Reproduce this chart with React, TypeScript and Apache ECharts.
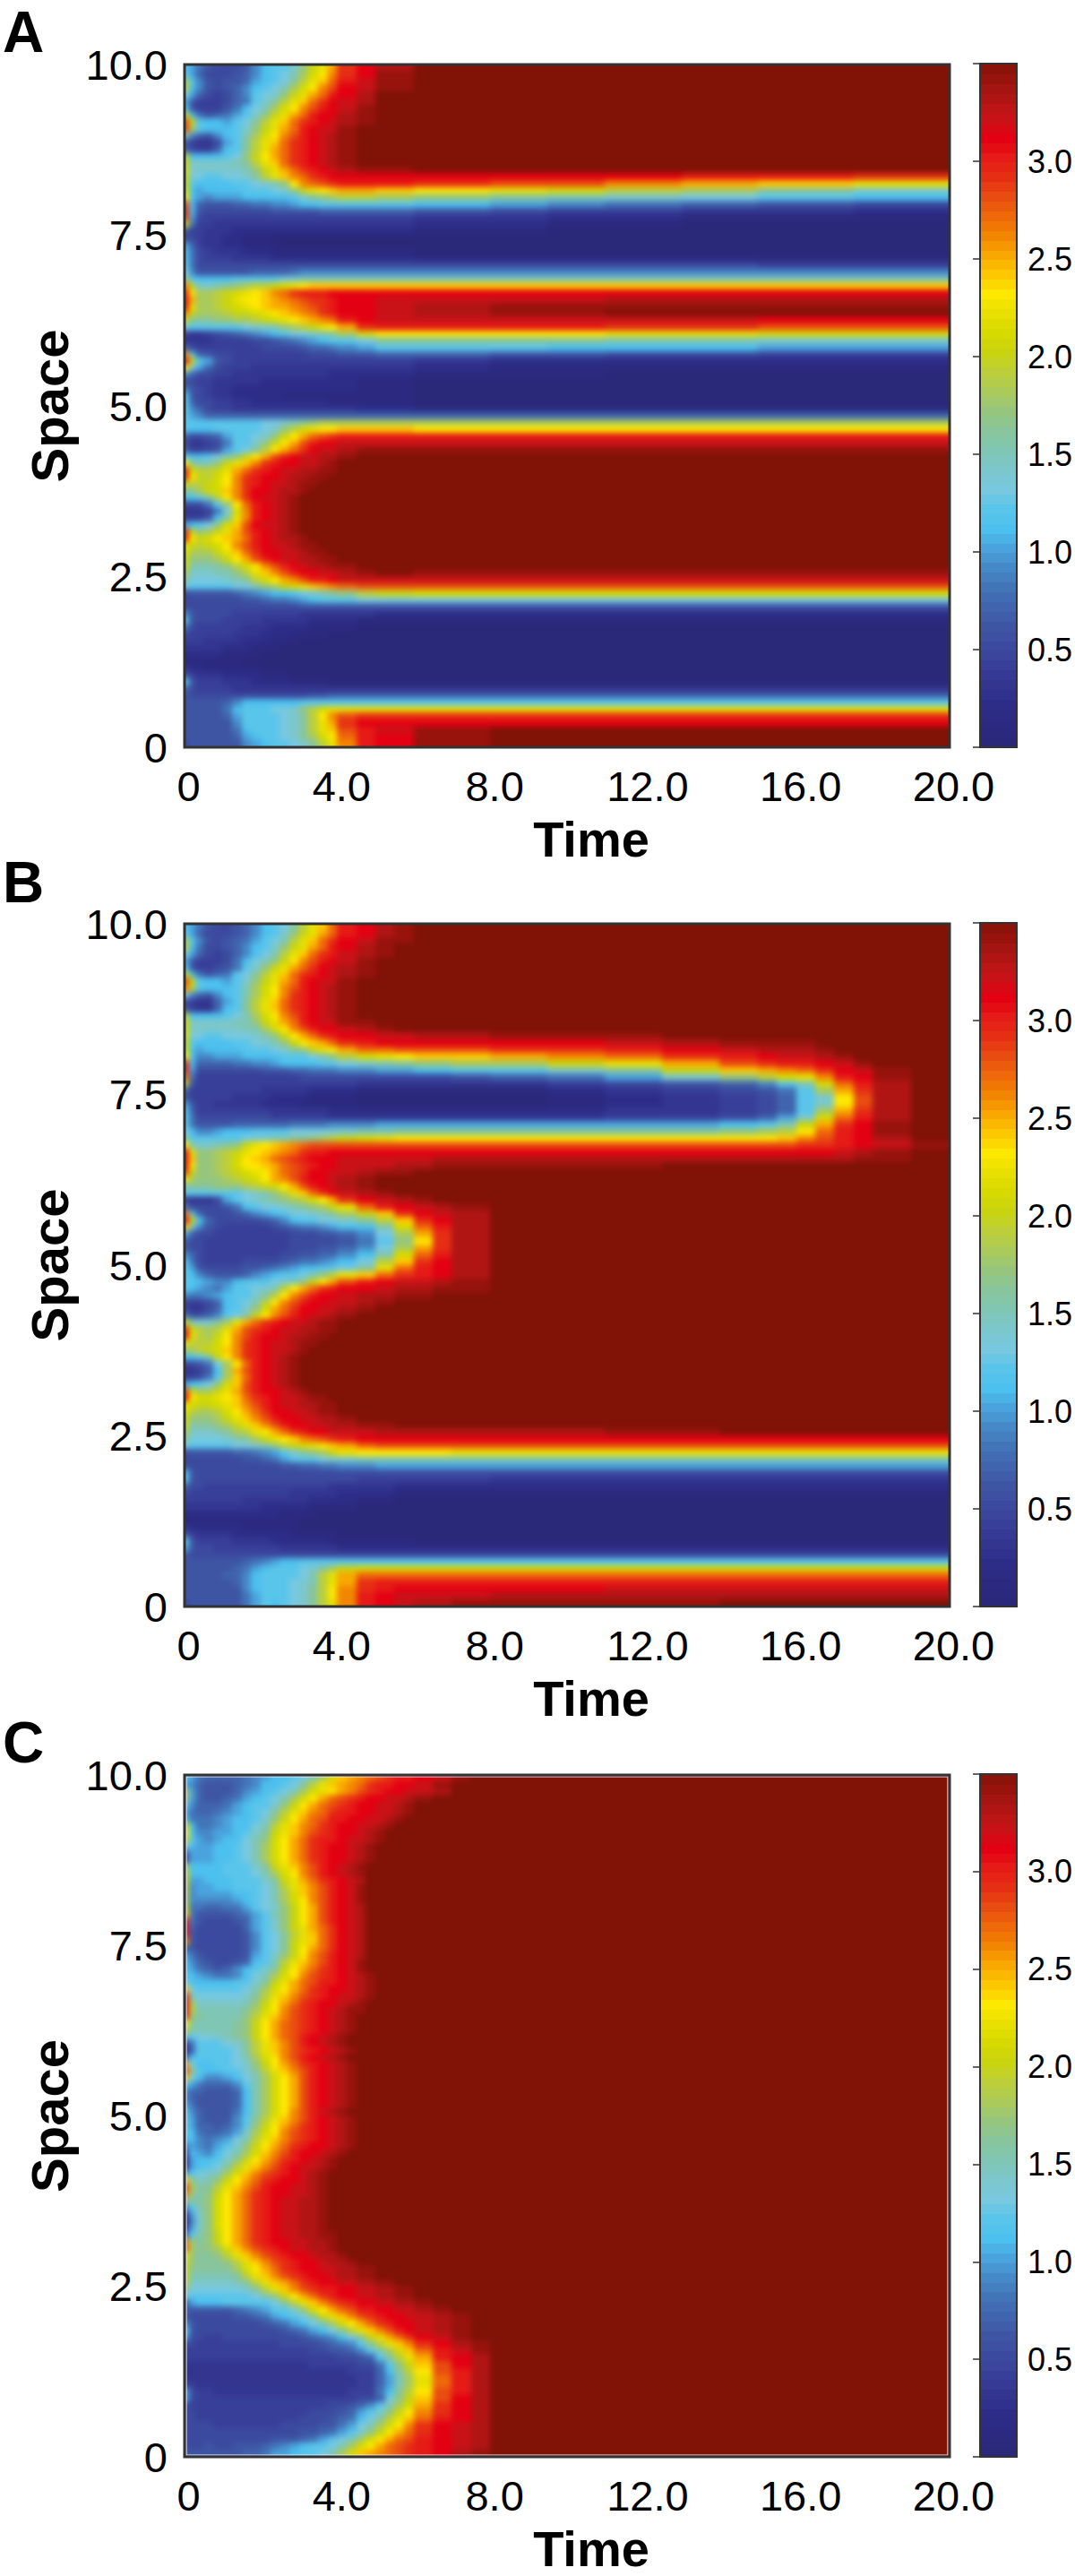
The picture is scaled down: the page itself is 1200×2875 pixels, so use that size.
import React, { useEffect, useRef } from "react";
import * as echarts from "echarts";

const FONT = "Liberation Sans";
const colorRamp = ["#2a2879","#2b2a80","#2d2d88","#33358f","#383f98","#3b4a9e","#3e55a4","#4064ad","#4274b8","#4689c8","#4aa3dc","#4cc0ee","#5ac5ea","#78c9e0","#7cc7cb","#7fc6b4","#88c59c","#96c67e","#aaca5c","#bccf3a","#c9d410","#d6da00","#e8e000","#fde800","#fdc800","#f8a800","#f38600","#ef680a","#e94c10","#e62e14","#e61a16","#e30012","#c91218","#b01514","#97130c","#801206"];
const colorbarLevels = [0,.05,.1,.15,.2,.25,.3,.35,.4,.45,.5,.55,.6,.65,.7,.75,.8,.85,.9,.95,1,1.05,1.1,1.15,1.2,1.25,1.3,1.35,1.4,1.45,1.5,1.55,1.6,1.65,1.7,1.75,1.8,1.85,1.9,1.95,2,2.05,2.1,2.15,2.2,2.25,2.3,2.35,2.4,2.45,2.5,2.55,2.6,2.65,2.7,2.75,2.8,2.85,2.9,2.95,3,3.05,3.1,3.15,3.2,3.25,3.3,3.35,3.4,3.45,3.5];
const panelLetters = ["A", "B", "C"];

const earlyTimes = [0,.12,.3,.5,.75,1,1.25,1.5,1.75,2,2.25,2.5,2.75,3,3.25,3.5,3.75];
const timesA = [...earlyTimes,4,4.5,5,6,8,9.5,11,13,15,17.5,20];
const timesB = [...earlyTimes,4,4.5,5,5.5,6,6.5,7,8,9.5,11,12.5,14,15,15.5,16,16.5,17,17.5,18,19,20];
const timesC = [...earlyTimes,4,4.25,4.5,4.75,5,5.25,5.5,5.75,6,6.5,7,7.5,8,9,20];

// Each character is one cell: base-36 digit = value x 10. Rows run from space 10 down to 0 in 0.1 steps.
// A row shorter than its time axis keeps its last value to the end.
const rowsA = [
"ba86 5556 9bcc ehkm ptvx zzzz","ca75 5567 9bcd filn qtvy zzzz","ic96 5667 abcd gjmo ruwy zzzz","jb96 5679 bcdf ilnq svwy zzzz","da75 4579 cdeh kmpr uvxz zzzz",
"a644 4578 cegj mort vwxz zzzz","b644 468b dfil nqsu vwyz zzzz","kb86 78ac ehkm pruv vxyz zzzz","skcb bacd gjmo rtuv wxyz zzzz","sicb bbce hkmp ruvw wyzz zzzz",
"f976 9bcf ilnq suvw xyzz zzzz","6433 5acg jmor tuvw xyzz zzzz","7544 7bcg jmpr tuvw xyzz zzzz","jbbb bcdh knpr tuvw xyzz zzzz","keee eefg jmor tuvw xyzz zzzz",
"ldee eeef hkmp rtuv wxyy zzzz","kddc cdde gjmo qrtu vvvv vvvvuut","kcbb bbcc defh nqrs tuuu tssqpom","lbab bbbc ccde hkmn oppo nmljige","nba9 aaab bbbb cegh ijji hgfedcb",
"sb76 6677 8899 abbc cccc ba98765","tb65 5555 5566 6667 7777 6544332","sa54 4444 4444 4444 4444 3322111","k844 3333 3333 3333 3333 2211000","6443 3322 2222 2222 2222 1100000",
"5543 3221 1100 0000 0000 0000","a743 3221 1110 0000 0000 0000","b854 3332 2211 1111 1111 0000","b854 4433 3322 2222 2222 1111","c855 5555 5555 5555 5555 5555544",
"d966 6666 7777 8999 9999 9999","hcbb bbcc cccd efff ffff ffff","qjee fghi jjkl mnoo oooo oooo","tnii jklm noqr tuuu vvvv vvvv","upii jkmn nopq rstt uvvw wwwxxxx",
"umii jklm nopp qrst uvvw xyyy","qkii ijkk lmno pqrt uvvw xyyz","kggg hhii jklm nopq ruvw wwwwwvv","dccc cccd eefh ijkm nptu uuuttss","4334 5678 9abc ddef giln nnnmmll",
"3333 4444 5567 89ab ccdg gggffee","7544 4444 4555 5677 89ac ccbbbaa","qc76 5544 4444 4455 5667 7665544","ukca 6544 4444 4444 4444 3222","nda7 5444 3333 3333 3333 2111",
"9755 4433 3333 3333 2222 1110","5544 3333 3222 2222 2211 0000","8654 3322 2222 2222 2211 0000","b654 3322 2221 1111 1111 0000","c755 4433 2222 2222 1111 0000",
"c975 4433 3333 3333 3322 1111","ca97 7777 7777 7777 7777 7777","cccc cccc cdde fghi iiii iiii","cbbb cccc cdeh jlmn nooo nnnn","7556 7acc dehk nprs tuuu uuuu",
"5334 58cc ehkn psuv vwww wwww","7445 6acd gjnp rtvw wxyy yyyy","cbbc dfhk npsu vwwx xyzz zzzz","ngff hkmo qtuv vwwx yzzz zzzz","tljj kmpr tuvw wxxy yzzz zzzz",
"tnkj lnqt uvvw xxyy zzzz zzzz","kjjk lnqt uvww xyyz zzzz zzzz","ggik loqt vvwx xyzz zzzz zzzz","bbcf jnqt vwwx yzzz zzzz zzzz","5558 chnr uvwx yzzz zzzz zzzz",
"3334 8dlq uvwx yzzz zzzz zzzz","4446 bgmq uvwx yzzz zzzz zzzz","abcd hlos vwwx yzzz zzzz zzzz","tkhi kmps uvwx yzzz zzzz zzzz","tnkl nopr uvwx xyzz zzzz zzzz",
"mkjk lnqs uvww xyyz zzzz zzzz","liii kmor tvvw wxyy zzzz zzzz","khhh iknp suvw wxxy yzzz zzzz","kfff ghjl nqsu vwxx yyzz zzzz","ieee ffhj moqs uvvw wxyz yyyy",
"gddd defg jlnp qsuu vwww wwww","dccc ccdd fhik lmop qrss ssss","5666 6678 9abb cdef ghjk llll","5555 5556 6788 9abc ccdd dddd","5555 5555 5555 5666 6666 6666",
"9655 5544 4444 4333 3332 2222","c655 5444 4333 3322 2211 1111","8544 4443 3322 2211 1100 0000","5444 4433 3222 1111 0000 0000","4443 3332 2211 1000 0000 0000",
"3333 3222 1110 0000 0000 0000","2222 2111 1000 0000 0000 0000","1111 1110 0000 0000 0000 0000","3221 1111 1000 0000 0000 0000","6433 3222 2111 0000 0000 0000",
"c644 4333 2222 1111 0000 0000","7544 4433 3333 3333 3333 3333","6555 5555 5555 5566 7777 7777","6666 679b bbbb bccc cccc cccc","6666 68bc ccdd ehjl mmmm mmmm",
"6666 67ac cccd egjn qstt tttt","6666 669c cccd egjm ptvv vvvv","6666 668b cccd egjm osuw yz","6666 667a bccd egil nruv yz","5666 6669 abcc degj mquv yz",
];

const rowsB = [
"ba86 5567 9bcd gjmo ruvx yz","ca75 5567 9bce hkmp ruvx yz","ic96 5678 acdf jmor tvwy yz","jb85 5679 bceh kmpr uvxy z","da75 4579 bdfj mort uwxy z",
"a644 458b dfhk nqsu vwyz","b644 568c ehkm prtv wxyz","kb86 78cd gjmo rtuv wxyz","skcb bace hkmp ruvw wyz","qjcb bbcf ilnq suvw xyz",
"d976 9bcf ilnq tuvw xyz","5433 7acg jmor tuvw xyz","6433 7bcg jmor tuvw xyz","jbbb bcdf ilnq suvw xyz","keee eeff hkmp ruvw wyyz",
"leee eeef filn qsuv vwxy z","lddc cddd efhk nprt uvvw wxxx yyyz","kcbb bbcc defh knop rtuv vvvv vvwxyyyyz","lbab bbbc ccde ghkm nprr ssss ttuvwxxxyz","nb99 aaab bbbc ccdf hjlm nooo pqrtuvwwxyz",
"tb77 7788 99ab bbbc cdef ghhi ikmpstuuvwyz","ta55 5555 5666 7788 899a abbc cegkopqrtvwyz","r844 4444 4444 4555 5555 5556 78aehjlmquvyz","j644 4444 4444 4444 4433 3333 345679cflruxz","7444 4444 4333 3322 2211 1111 1234568ciptxz",
"6444 4433 3322 2211 1100 0000 0123457censxz","a644 3333 3222 2111 1100 0000 0123457censxz","b744 4444 4433 3333 2222 2222 2233457ciptxz","c855 5555 5544 4444 3333 3333 334457aelruxz","c866 6677 7777 8888 999a aaaa aaaabcfkptvyz",
"db99 abbb cccc dddd eeff gggg gggghijnruvyz","gccc cccd eeff gghi jklm nnnn nnnnnnoqsuvxz","nfee fghk mnop qrss ssss ssss sssssssttuvwyz","umhh ijkm nopq rtuu vvvv vvvv vvvvvvvvvwxyz","uohh ijln oprs tuvv vwww wwxx xxxxxxxxxxyyz",
"unhh ijln nopr stuv vwww xxyy yyyz","skhh ijkl mnpr stvv wwxy yz","mihh hijk lnpq suvv wxyz","fggg hhhi jkln psuv wxyz","cccc cccd efhj mort vwxy z",
"4333 5acd efgh ijln ptvw xyz","8555 568b cdde fghi kmru vwxy z","rc75 5567 9abc ddef giko tvwx z","ukb7 5555 5679 bccd degj otvx z","oe96 5444 4456 7889 abbf lrux z",
"a755 4444 4444 5556 679d iptx z","7554 4444 4444 5555 568c hntx z","6554 4444 4444 5556 679d iptx z","9754 4444 4445 5667 79bf lrux z","b854 4445 5556 7889 abdj otvx z",
"ca65 5556 6789 abbc cdgm ruvx z","cb97 6667 9abc cdfh jmor tuvx z","ccba 99bc ccde fhkn psuv wwxy z","cba9 8acc defj nprt uvvw xxyy z","9889 abcc egjn qsuv vwxx yyz",
"4445 7bcd fjnq suvv wwxy z","5335 7bce hlpr tvvw wxyz","8667 9cdg knqs uvww xyz","kfee gimp rtuv wwxy yz","tlji jmps tuvw wxxy yz",
"umji knqs uvvw xxyy z","mjjj lnqt uvww xyyz","hijk loqt uvww xyzz","bbcf knqt uvwx yz","5568 dinr uvwx yz",
"3346 bips uvwx yz","4458 cior uvwx yz","abcd hlos uvwx yz","skii kmps uvvw xyz","unll mnor tuvw wxyy z",
"mlkk lmoq suvw wxxy yz","ljii jlnp rtvv wwxy yz","khhh ikmo qsuv vwwx xyz","kfgg hikm oqsu vvww xxyy z","ieee fgij mnpr tuvv wwwx xxxxxxyyz",
"gddd defg ikmn oqrs tuvv vvvv vvvv v","dccc ccdd efhj klmn oprs ssss ssss s","5666 6677 89ac eghi kmnn nnnm mmmm m","5555 5556 678a cccd eeff ffff ffff f","5555 5555 5556 6778 899a aaaa aaaa a",
"b655 5555 5555 5555 5555 5555 5555 5","c655 5555 5555 5555 5544 4444 3333 3","7554 4444 4444 4444 3333 2222 2222 2","5444 4444 4444 3333 3222 1111 1111 1","4444 4443 3333 3322 2211 0000 0000 0",
"3333 3333 3222 2211 1100 0","2222 2222 2221 1110 0","1111 1111 1111 1000 0","3222 2221 1111 1000 0","6433 3322 2222 1111 1000 0",
"c644 4433 3322 2222 1111 1000 0","a655 4444 4443 3333 3222 2222 2","6555 5555 5555 5555 5555 5555 5","6666 6667 89ab bccc cccc cccc c","6666 6678 abcc cdeg ikll llll l",
"6666 6779 bccc cdfj mprr rrrr r","6666 6679 bccc defj mptu uuuu u","6666 6669 bccc degj nqtu vvvv vvww","6666 6668 accc degj nquv wwww xxxx x","5666 6668 acbc degj mquv wxxy yyyyz",
];

const rowsC = [
"ba87 7778 9abb cdfi lopq rstu uvwy z","a976 6678 9bbc dgjm opqr tuuv vwyz","ia76 6679 abcd film npqs tuvv wwxz","ha76 678a bcdf ilnp rstu vvww xyz","c977 78ab cceh knpr stuv vwwx yz",
"a877 89ab cdgj moqr tuuv vwwx yz","b888 9abb cehk nprs uuvv wwxy z","lb88 9abb dfjm oqrt uvvw wxyz","nb99 aabc egkm oqst uvvw xyz","lca9 abbd fhln prtu uvww xyz",
"dbaa bbcd filn prtu vvwx yz","7aaa bbcd filn prtu vvwx yz","4aaa bbcd filn prtu vvwx yz","ibbb bccc egkm oqsu vwxy z","kbbb bccc dfil nqsu vwxy z",
"kaab bbcc cegk mprt uvwx z","j9aa bbcc cdfj moqs uvwy z","j9aa aabb cdfi loqs uvwy z","i999 99ab cdfi lnqs uvwy z","k887 788a cdeh knps uvwx z",
"o866 6678 acfh knps uvwx z","t865 5567 aceh knps uvwx z","u755 5557 aceh kmpr tvwx z","t655 5556 9cdg jmor tvwx z","q655 5556 9cdg kmor tvwx z",
"7655 5556 9cdg knpr tvwx z","a865 5556 aceh knqs uvwx z","b976 5567 bcfj moqs uvwy z","ba87 679b cegk nprt uvwy z","cba9 889b dfil nqst uvwx yz",
"dbbb bbcc egkm prsu uvwx yz","odcc cccd filn prtu vvwx yz","tfdd ddde gjmo qstu vwwx yz","uiee eeef hknp rtuv vwxy z","ujff fffg ilnq stuv wxyy z",
"thgf fffh jmoq stuv wxyz","ngff ffgh knpr stuv wxyz","jfff ffgh knpr stuv wxyz","ccdd efgh knpr suvw xyz","48cc cdeg jmoq suvw xyz",
"37cc ccdg jmoq stuv wxyz","8bcc ccdf ilnq suvw xyz","pdbb ccde hknp rtuv wxyz","shcb bcce gjmo qsuv wxyz","odb9 9abd filn psuv wxyz",
"ba87 779c filn psuv wxyz","9776 667b filn psuv wxyz","9766 667b filn psuv wxyz","a866 667b filn psuv wxyz","c976 668b filn qsuw xyz",
"ca76 669c gjmo qsuv wxyz","ca77 679c hknp rtuv wxyz","cb87 78ae ilnq stuv wxyz","bb98 9adf jmoq stuv wxyz","9a98 aceh knpr tuvv wxyz",
"5ba9 bdfi loqs uvvw xyz","3abb cehk nprt uvwx yz","3abc dgjm oqsu vwwx yz","acde filo qstu vwxy z","ogef hknp rtuv vwxy z",
"sigg jmoq suvv wwxy z","qhfh knpr tuvv wwxy z","hfgh lnpr tuvw wxxy z","9cfh lnpr tuvw wxxy z","3aeh lnpr tuvw wxxy z",
"29eh lnpr tuvw wxxy z","3aeh lnpr tuvw wxxy z","8cfh knpr tuvw wxxy yz","qhgh knpr tuvv wwxx yz","righ iloq stuv wwxx yz",
"mhgg hjmo qstu vvwx xyz","lhgg ghjm oqst uvvw xxyz","kggg ggil nprt uvvw wxxy yz","kfff ffgj moqs tuvv wxxy yz","jeee eefg jmop rtuv vwwx xyyz",
"hddd ddde gjmo qstu uvvw wxxy yz","dccc cccc dfhk nprt uvvw wxxy yz","7abb bccc ccdg jmoq stuv vwwx xyz","7666 6678 9acc ehln prsu uvvw wxyz","6555 5566 78ab cdgk moqs tuvv wwxy z",
"9655 5555 5678 abdf ilnp rtuv vwxy z","c655 5555 5556 78ab dgjm oqsu vwxy z","a554 4555 5555 5678 9bdg kmpr tvwy z","5544 4444 4445 5556 789c gjmo qtvx yz","4444 4444 4444 4455 6679 cfil oruw yz",
"4444 4444 4444 4444 4556 7cgj mpuv xz","3333 3333 3333 3344 4445 58ch kosv xz","2333 3333 3333 3333 3344 47bg jnsu xz","3333 3333 3333 3333 3334 47af imru xz","4433 3333 3333 3333 3334 47af imru xz",
"a544 3333 3333 3333 3344 48bg jnsu xz","a544 4444 4444 4444 4445 57dh kosv xz","5444 4444 4444 4444 5567 9cfi lptv xz","5544 4444 4444 4455 567a cehk nqtv xz","5544 4444 4444 4555 678b dgjm oruv xz",
"5555 4444 4445 5556 68ad filn qtvw xz","5555 5555 5555 5667 8ace hknp rtvw xz","5555 5555 5566 678a cdfi lnpr suvw xz","5556 5566 6789 abcc dfil nprs tuvw xz","6666 6667 78aa bccd filo pqrs tuvx yz",
];

const spaceTicksInterval = 2.5;
const timeTicksInterval = 4;

const PANELS = [
  { rows: rowsA, times: timesA, top: 72, height: 762, barTop: 71, barHeight: 763, letterY: 36 },
  { rows: rowsB, times: timesB, top: 1031, height: 762, barTop: 1030, barHeight: 763, letterY: 985 },
  { rows: rowsC, times: timesC, top: 1981, height: 761, barTop: 1980, barHeight: 762, letterY: 1945 },
];
const LEFT = 206, WIDTH = 854, PAD = 24, BLUR = 3.2;

function cells(rows: string[], times: number[]) {
  const out: number[][] = [];
  rows.forEach((raw, i) => {
    const row = raw.replace(/ /g, "");
    const top = 10 - i * 0.1;
    const bottom = Math.max(0, top - 0.1);
    let start = 0;
    const cols = times.length - 1;
    const at = (j: number) => row[Math.min(j, row.length - 1)];
    for (let j = 1; j <= cols; j++) {
      if (j === cols || at(j) !== at(start)) {
        out.push([times[start], times[j], bottom, top, parseInt(at(start), 36) / 10]);
        start = j;
      }
    }
  });
  return out;
}

// Edge cells run on under the frame, so that the soft edge of the picture never meets white.
const renderCell = (bleed: number) => (_: any, api: any) => {
  const t0 = api.value(0), t1 = api.value(1), s0 = api.value(2), s1 = api.value(3);
  const a = api.coord([t0, s1]);
  const b = api.coord([t1, s0]);
  let x0 = Math.floor(a[0]), y0 = Math.floor(a[1]), x1 = Math.ceil(b[0]) + 1, y1 = Math.ceil(b[1]) + 1;
  if (bleed) {
    if (t0 <= 0) x0 -= bleed;
    if (t1 >= 20) x1 += bleed;
    if (s1 >= 9.999) y0 -= bleed;
    if (s0 <= 0.001) y1 += bleed;
  }
  return {
    type: "rect",
    shape: { x: x0, y: y0, width: x1 - x0, height: y1 - y0 },
    style: { fill: api.visual("color"), stroke: null },
  };
};

function visualMapFor(count: number) {
  return { show: false, type: "continuous", min: 0, max: 3.5, dimension: 4, seriesIndex: Array.from({ length: count }, (_, i) => i), inRange: { color: colorRamp } };
}

export default function App() {
  const overlay = useRef<HTMLDivElement>(null);
  const fieldRefs = [useRef<HTMLDivElement>(null), useRef<HTMLDivElement>(null), useRef<HTMLDivElement>(null)];
  useEffect(() => {
    document.body.style.margin = "0";
    const charts: any[] = [];
    PANELS.forEach((p, k) => {
      const field = echarts.init(fieldRefs[k].current!, undefined, { renderer: "svg" });
      field.setOption({
        animation: false,
        grid: { left: PAD, top: PAD, width: WIDTH, height: p.height, outerBoundsMode: "none" },
        xAxis: { type: "value", min: 0, max: 20, show: false },
        yAxis: { type: "value", min: 0, max: 10, show: false },
        series: [{
          type: "custom", coordinateSystem: "cartesian2d", data: cells(p.rows, p.times),
          encode: { x: [0, 1], y: [2, 3] }, renderItem: renderCell(PAD), silent: true, animation: false, progressive: 0, clip: false,
        }],
        visualMap: visualMapFor(1),
      });
      charts.push(field);
    });

    const chart = echarts.init(overlay.current!, undefined, { renderer: "svg" });
    const grid: any[] = [], xAxis: any[] = [], yAxis: any[] = [], series: any[] = [], graphic: any[] = [];
    const labelStyle = { fontFamily: FONT, fontSize: 47, color: "#000" };
    const fmt = (v: number) => (v === 0 ? "0" : v.toFixed(1));
    PANELS.forEach((p, k) => {
      grid.push({ left: LEFT, top: p.top, width: WIDTH, height: p.height, outerBoundsMode: "none" });
      grid.push({ left: 1094, top: p.barTop, width: 41, height: p.barHeight, outerBoundsMode: "none" });
      const g = k * 2, c = k * 2 + 1;
      xAxis.push({
        gridIndex: g, type: "value", min: 0, max: 20, interval: timeTicksInterval,
        axisLine: { show: false }, axisTick: { show: false }, splitLine: { show: false },
        axisLabel: { ...labelStyle, margin: 20, formatter: fmt, padding: [0, 0, 0, 9], hideOverlap: false, showMinLabel: true, showMaxLabel: true },
        name: "Time", nameLocation: "middle", nameGap: 74,
        nameTextStyle: { fontFamily: FONT, fontSize: 56, fontWeight: "bold", color: "#000", padding: [0, 0, 0, 54] },
      });
      yAxis.push({
        gridIndex: g, type: "value", min: 0, max: 10, interval: spaceTicksInterval,
        axisLine: { show: false }, axisTick: { show: false }, splitLine: { show: false },
        axisLabel: { ...labelStyle, margin: 19, formatter: fmt, padding: [0, 0, 18, 0], showMinLabel: true, showMaxLabel: true },
        name: "Space", nameLocation: "middle", nameGap: 100, nameRotate: 90,
        nameTextStyle: { fontFamily: FONT, fontSize: 58, fontWeight: "bold", color: "#000" },
      });
      xAxis.push({ gridIndex: c, type: "value", min: 0, max: 1, show: false });
      const barY = yAxis.length;
      yAxis.push({
        gridIndex: c, type: "value", min: 0, max: 3.5, interval: 0.5, position: "right",
        axisLine: { show: false }, splitLine: { show: false },
        axisTick: { show: true, inside: true, length: 8, lineStyle: { color: "#333", width: 1.5 } },
        axisLabel: { fontFamily: FONT, fontSize: 36, color: "#000", margin: 12,
          formatter: (v: number) => (v === 0 || v === 3.5 ? "" : v.toFixed(1)) },
      });
      yAxis.push({
        gridIndex: c, type: "value", min: 0, max: 3.5, interval: 0.5, position: "left",
        axisLine: { show: false }, splitLine: { show: false }, axisLabel: { show: false },
        axisTick: { show: true, inside: true, length: 8, lineStyle: { color: "#333", width: 1.5 } },
      });
      series.push({
        type: "custom", xAxisIndex: c, yAxisIndex: barY, coordinateSystem: "cartesian2d",
        data: colorbarLevels.slice(0, -1).map((v, i) => [0, 1, v, colorbarLevels[i + 1], v]),
        encode: { x: [0, 1], y: [2, 3] }, renderItem: renderCell(0), silent: true, animation: false, progressive: 0, clip: true, z: 1,
      });
      graphic.push({ type: "rect", z: 100, silent: true, shape: { x: LEFT, y: p.top, width: WIDTH, height: p.height }, style: { fill: "none", stroke: "#333", lineWidth: 3 } });
      graphic.push({ type: "rect", z: 100, silent: true, shape: { x: 1094, y: p.barTop, width: 41, height: p.barHeight }, style: { fill: "none", stroke: "#333", lineWidth: 2 } });
      graphic.push({ type: "text", z: 100, silent: true, x: 3, y: p.letterY, style: { text: panelLetters[k], fontFamily: FONT, fontSize: 64, fontWeight: "bold", fill: "#000", verticalAlign: "middle" } });
      if (k === 2) {
        graphic.push({ type: "rect", z: 99, silent: true, shape: { x: LEFT + 2, y: p.top + 2, width: WIDTH - 4, height: p.height - 4 }, style: { fill: "none", stroke: "#eef", lineWidth: 1.2 } });
      }
    });
    chart.setOption({ animation: false, grid, xAxis, yAxis, series, graphic, visualMap: visualMapFor(series.length) });
    charts.push(chart);
    return () => charts.forEach((c) => c.dispose());
  }, []);
  return (
    <div style={{ position: "absolute", left: 0, top: 0, width: 1200, height: 2875, background: "#fff" }}>
      {PANELS.map((p, k) => (
        <div key={k} style={{ position: "absolute", left: LEFT, top: p.top, width: WIDTH, height: p.height, overflow: "hidden" }}>
          <div ref={fieldRefs[k]} style={{ position: "absolute", left: -PAD, top: -PAD, width: WIDTH + 2 * PAD, height: p.height + 2 * PAD, filter: `blur(${BLUR}px)` }} />
        </div>
      ))}
      <div ref={overlay} style={{ position: "absolute", left: 0, top: 0, width: 1200, height: 2875 }} />
    </div>
  );
}
